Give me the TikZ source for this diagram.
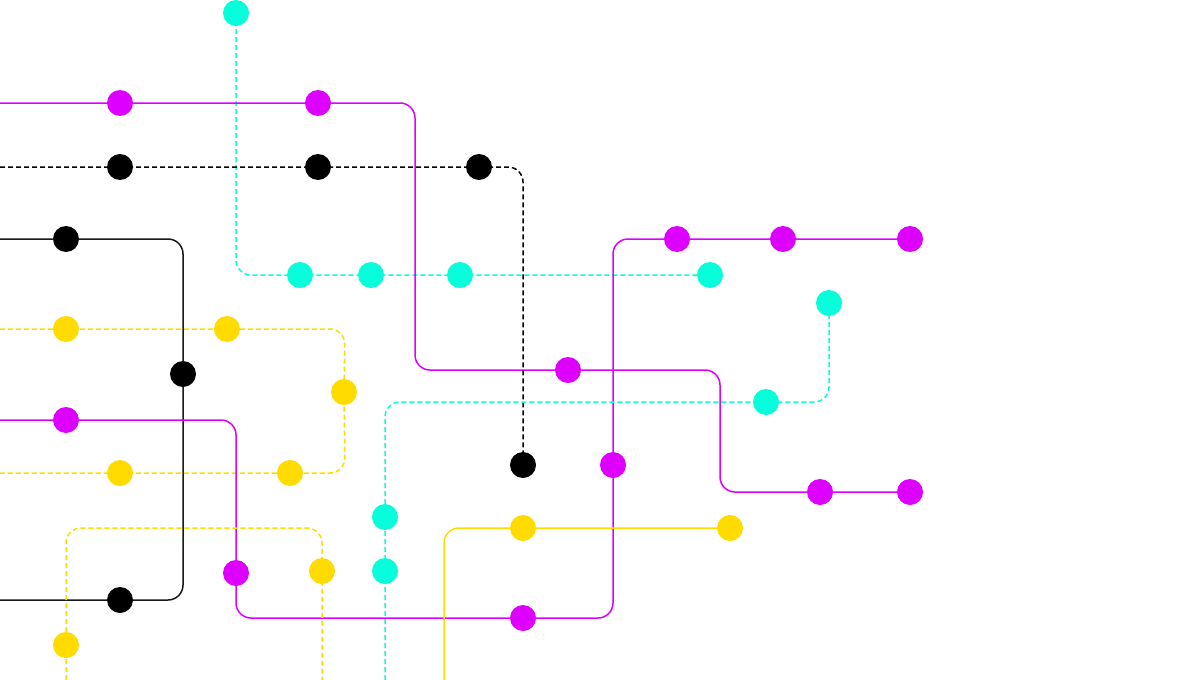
\documentclass[tikz,border=0pt]{standalone}
\usetikzlibrary{backgrounds}
\definecolor{mag}{RGB}{221,0,255}
\definecolor{cyn}{RGB}{6,255,218}
\definecolor{ylw}{RGB}{255,219,0}
\tikzset{
  dot/.style={circle,fill=#1,minimum size=26pt,inner sep=0pt,draw=none},
  route/.style={draw=#1,line width=1.5pt,rounded corners=15pt},
  dashroute/.style={route=#1,dash pattern=on 5pt off 3pt},
}
\begin{document}
\begin{tikzpicture}[x=1pt,y=-1pt]
\useasboundingbox (0,0) rectangle (1200,680);
% cyan line A
\node[dot=cyn] (ca1) at (236,13) {};
\node[dot=cyn] (ca2) at (300,275) {};
\node[dot=cyn] (ca3) at (371,275) {};
\node[dot=cyn] (ca4) at (460,275) {};
\node[dot=cyn] (ca5) at (710,275) {};
% magenta line 1
\coordinate (m1s) at (0,103);
\node[dot=mag] (m1a) at (120,103) {};
\node[dot=mag] (m1b) at (318,103) {};
\node[dot=mag] (m1c) at (568,370) {};
\node[dot=mag] (m1d) at (820,492) {};
\node[dot=mag] (m1e) at (910,492) {};
% black dashed
\coordinate (bds) at (0,167);
\node[dot=black] (bd1) at (120,167) {};
\node[dot=black] (bd2) at (318,167) {};
\node[dot=black] (bd3) at (479,167) {};
\node[dot=black] (bd4) at (523,465) {};
% black solid
\coordinate (bss) at (0,239);
\coordinate (bse) at (0,600);
\node[dot=black] (bs1) at (66,239) {};
\node[dot=black] (bs2) at (183,374) {};
\node[dot=black] (bs3) at (120,600) {};
% yellow dashed 1
\coordinate (y1s) at (0,329);
\coordinate (y1e) at (0,473);
\node[dot=ylw] (y1a) at (66,329) {};
\node[dot=ylw] (y1b) at (227,329) {};
\node[dot=ylw] (y1c) at (344,392) {};
\node[dot=ylw] (y1d) at (290,473) {};
\node[dot=ylw] (y1e2) at (120,473) {};
% magenta line 2
\coordinate (m2s) at (0,420);
\node[dot=mag] (m2a) at (66,420) {};
\node[dot=mag] (m2b) at (236,573) {};
\node[dot=mag] (m2c) at (523,618) {};
\node[dot=mag] (m2d) at (613,465) {};
\node[dot=mag] (m2e) at (677,239) {};
\node[dot=mag] (m2f) at (783,239) {};
\node[dot=mag] (m2g) at (910,239) {};
% yellow dashed 2
\coordinate (y2s) at (66,680);
\coordinate (y2e) at (322,680);
\node[dot=ylw] (y2a) at (66,645) {};
\node[dot=ylw] (y2b) at (322,571) {};
% cyan line B
\coordinate (cbs) at (385,680);
\node[dot=cyn] (cb1) at (385,571) {};
\node[dot=cyn] (cb2) at (385,517) {};
\node[dot=cyn] (cb3) at (766,402) {};
\node[dot=cyn] (cb4) at (829,303) {};
% yellow solid
\coordinate (yss) at (444,680);
\node[dot=ylw] (ys1) at (523,528) {};
\node[dot=ylw] (ys2) at (730,528) {};

\begin{scope}[on background layer]
\draw[dashroute=cyn] (ca1.center) -- (236,275) -- (ca2.center) -- (ca3.center) -- (ca4.center) -- (ca5.center);
\draw[route=mag] (m1s) -- (m1a.center) -- (m1b.center) -- (415,103) -- (415,370) -- (m1c.center) -- (720,370) -- (720,492) -- (m1d.center) -- (m1e.center);
\draw[dashroute=black] (bds) -- (bd1.center) -- (bd2.center) -- (bd3.center) -- (523,167) -- (bd4.center);
\draw[route=black!90] (bss) -- (bs1.center) -- (183,239) -- (bs2.center) -- (183,600) -- (bs3.center) -- (bse);
\draw[dashroute=ylw] (y1s) -- (y1a.center) -- (y1b.center) -- (345,329) -- (y1c.center) -- (345,473) -- (y1d.center) -- (y1e2.center) -- (y1e);
\draw[route=mag] (m2s) -- (m2a.center) -- (236,420) -- (m2b.center) -- (236,618) -- (m2c.center) -- (613,618) -- (m2d.center) -- (613,239) -- (m2e.center) -- (m2f.center) -- (m2g.center);
\draw[dashroute=ylw] (y2s) -- (y2a.center) -- (66,528) -- (322,528) -- (y2b.center) -- (y2e);
\draw[dashroute=cyn] (cbs) -- (cb1.center) -- (cb2.center) -- (385,402) -- (cb3.center) -- (829,402) -- (cb4.center);
\draw[route=ylw] (yss) -- (444,528) -- (ys1.center) -- (ys2.center);
\end{scope}
\end{tikzpicture}
\end{document}
